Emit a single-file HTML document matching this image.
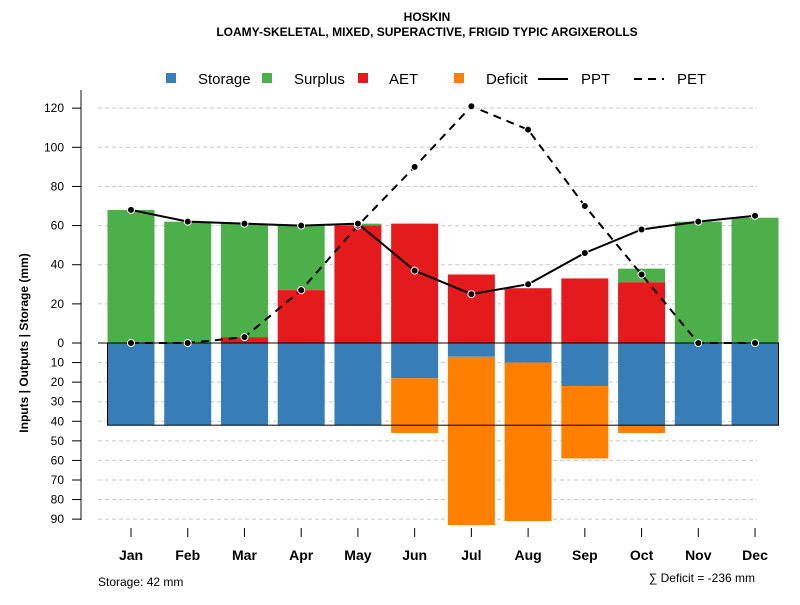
<!DOCTYPE html>
<html><head><meta charset="utf-8"><style>
body{margin:0;background:#fff;font-family:"Liberation Sans",sans-serif}
</style></head><body>
<svg id="c" width="800" height="600" xmlns="http://www.w3.org/2000/svg" font-family="Liberation Sans, sans-serif">
<text x="427" y="21" text-anchor="middle" font-size="12" font-weight="bold">HOSKIN</text>
<text x="427" y="36" text-anchor="middle" font-size="12" font-weight="bold">LOAMY-SKELETAL, MIXED, SUPERACTIVE, FRIGID TYPIC ARGIXEROLLS</text>
<g font-size="15">
<g><rect x="166" y="73" width="10" height="10" fill="#377eb8"/><text x="198" y="84">Storage</text></g>
<g><rect x="262" y="73" width="10" height="10" fill="#4daf4a"/><text x="294" y="84">Surplus</text></g>
<g><rect x="358" y="73" width="10" height="10" fill="#e41a1c"/><text x="389" y="84">AET</text></g>
<g><rect x="454" y="73" width="10" height="10" fill="#ff7f00"/><text x="486" y="84">Deficit</text></g>
<g><line x1="538" y1="79" x2="568" y2="79" stroke="#000" stroke-width="2"/><text x="581" y="84">PPT</text></g>
<g><line x1="634" y1="79" x2="664" y2="79" stroke="#000" stroke-width="2" stroke-dasharray="8,6"/><text x="677" y="84">PET</text></g>
</g>
<g id="grid"></g><g id="bars"></g><g id="lines"></g><g id="axes"></g>
<text transform="translate(28,343) rotate(-90)" text-anchor="middle" font-size="12" font-weight="bold">Inputs | Outputs | Storage    (mm)</text>
<text x="98" y="586" font-size="12">Storage: 42 mm</text>
<text x="755" y="582" text-anchor="end" font-size="12">∑ Deficit = -236 mm</text>
</svg>
<script>
const months=["Jan","Feb","Mar","Apr","May","Jun","Jul","Aug","Sep","Oct","Nov","Dec"];
const aet=[0,0,3,27,60,61,35,28,33,31,0,0];
const surplus=[68,62,58,33,1,0,0,0,0,7,62,64];
const storage=[42,42,42,42,42,18,7,10,22,42,42,42];
const deficit=[0,0,0,0,0,28,86,81,37,4,0,0];
const ppt=[68,62,61,60,61,37,25,30,46,58,62,65];
const pet=[0,0,3,27,60,90,121,109,70,35,0,0];
const upTicks=[0,20,40,60,80,100,120];
const downTicks=[10,20,30,40,50,60,70,80,90];
const maxStorage=42;
const NS="http://www.w3.org/2000/svg";
const y0=343,k=1.957;
const yUp=v=>y0-v*k, yDn=v=>y0+v*k;
const x=i=>131+i*56.73;
const bw=47;
function mk(t,p,a){const e=document.createElementNS(NS,t);for(const q in a)e.setAttribute(q,a[q]);p.appendChild(e);return e;}
const G=document.getElementById('grid'),B=document.getElementById('bars'),L=document.getElementById('lines'),A=document.getElementById('axes');
upTicks.concat(downTicks.map(v=>-v)).forEach(v=>{if(v===0)return;const yy=v>0?yUp(v):yDn(-v);
const g=mk('line',G,{x1:98,x2:757,y1:yy,y2:yy,stroke:'#c8c8c8','stroke-dasharray':'4,3'});

});
months.forEach((m,i)=>{const xl=x(i)-bw/2;
let r=mk('rect',B,{x:xl,y:yUp(aet[i]+surplus[i]),width:bw,height:surplus[i]*k,fill:'#4daf4a'});


r=mk('rect',B,{x:xl,y:yUp(aet[i]),width:bw,height:aet[i]*k,fill:'#e41a1c'});


r=mk('rect',B,{x:xl,y:y0,width:bw,height:storage[i]*k,fill:'#377eb8'});


r=mk('rect',B,{x:xl,y:yDn(storage[i]),width:bw,height:deficit[i]*k,fill:'#ff7f00'});


});
let box=mk('rect',B,{x:107.5,y:y0,width:671,height:maxStorage*k,fill:'none',stroke:'#000','stroke-width':1});


let zl=mk('line',B,{x1:98,x2:779,y1:y0,y2:y0,stroke:'#000'});


function series(vals,name,dash){const p=mk('polyline',L,{points:vals.map((v,i)=>x(i)+','+yUp(v)).join(' '),fill:'none',stroke:'#000','stroke-width':2,'stroke-dasharray':dash});


vals.forEach((v,i)=>{const c=mk('circle',L,{cx:x(i),cy:yUp(v),r:3.5,fill:'#000',stroke:'#fff','stroke-width':1});

});}
series(pet,'pet','8,6');series(ppt,'ppt','none');
mk('line',A,{x1:81,x2:81,y1:90,y2:520,stroke:'#888','stroke-width':2});
upTicks.forEach(v=>{mk('line',A,{x1:72,x2:81,y1:yUp(v),y2:yUp(v),stroke:'#000'});
const t=mk('text',A,{x:64,y:yUp(v)+4,'text-anchor':'end','font-size':12});t.textContent=v;

});
downTicks.forEach(v=>{mk('line',A,{x1:72,x2:81,y1:yDn(v),y2:yDn(v),stroke:'#000'});
const t=mk('text',A,{x:64,y:yDn(v)+4,'text-anchor':'end','font-size':12});t.textContent=v;

});
months.forEach((m,i)=>{mk('line',A,{x1:x(i),x2:x(i),y1:528,y2:537,stroke:'#000'});
const t=mk('text',A,{x:x(i),y:560,'text-anchor':'middle','font-size':14,'font-weight':'bold'});t.textContent=m;

});
</script>
</body></html>
